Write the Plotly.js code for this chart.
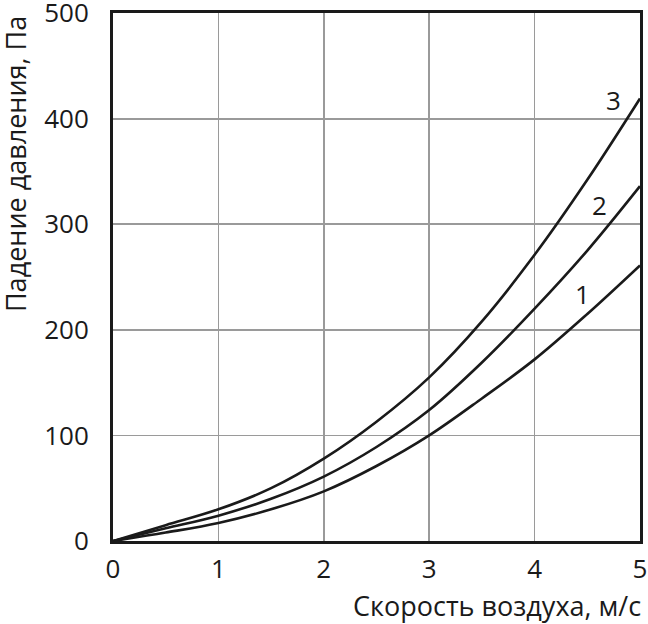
<!DOCTYPE html>
<html>
<head>
<meta charset="utf-8">
<script src="https://cdn.plot.ly/plotly-3.0.1.min.js"></script>
<style>
  html, body { margin: 0; padding: 0; background: #fff; }
  #chart { width: 648px; height: 624px; }
</style>
</head>
<body>
<div id="chart"></div>
<script>
// Air speed, m/s
const speed = [0, 0.5, 1, 1.5, 2, 2.5, 3, 3.5, 4, 4.5, 5];
// Pressure drop, Pa (curves 1..3)
const curve1 = [0, 8, 17, 30, 47, 71, 100, 135, 172, 215, 261];
const curve2 = [0, 12, 24, 40, 61, 89, 124, 169, 220, 275, 336];
const curve3 = [0, 15, 30, 50, 78, 113, 155, 208, 271, 342, 419];

const curveNames = ['1', '2', '3'];
const labelX = [4.45, 4.62, 4.75];
const labelY = [234, 318, 418];

const xTicks = [0, 1, 2, 3, 4, 5];
const yTicks = [0, 100, 200, 300, 400, 500];

const FONT = '"Open Sans", Lato, sans-serif';
const INK = '#1a1a1a';

const traces = [curve1, curve2, curve3].map((ys, i) => ({
    type: 'scatter',
    mode: 'lines',
    x: speed,
    y: ys,
    name: curveNames[i],
    line: { color: INK, width: 2.6, shape: 'spline', smoothing: 1 },
    hoverinfo: 'skip'
}));

const annotations = curveNames.map((t, i) => ({
    text: t,
    x: labelX[i], y: labelY[i],
    xref: 'x', yref: 'y',
    showarrow: false,
    font: { family: FONT, size: 26, color: INK }
}));

annotations.push({
    text: 'Падение давления, Па',
    xref: 'paper', yref: 'paper',
    x: -0.186, y: 0.998,
    xanchor: 'center', yanchor: 'top',
    textangle: -90,
    showarrow: false,
    font: { family: FONT, size: 27, color: INK }
});
annotations.push({
    text: 'Скорость воздуха, м/с',
    xref: 'paper', yref: 'paper',
    x: 1.006, y: -0.122,
    xanchor: 'right', yanchor: 'middle',
    showarrow: false,
    font: { family: FONT, size: 27, color: INK }
});

const axisBase = {
    showline: true, mirror: true,
    linecolor: INK, linewidth: 3,
    showgrid: true, gridcolor: '#9a9a9a', gridwidth: 1.8,
    zeroline: false,
    ticks: '',
    tickfont: { family: FONT, size: 26, color: INK },
    ticklabeloverflow: 'allow',
    fixedrange: true
};

const layout = {
    width: 648, height: 624,
    margin: { l: 113, r: 8, t: 13, b: 83 },
    paper_bgcolor: '#fff',
    plot_bgcolor: '#fff',
    showlegend: false,
    xaxis: Object.assign({}, axisBase, {
        range: [0, 5],
        tickvals: xTicks,
        ticklabelstandoff: 3
    }),
    yaxis: Object.assign({}, axisBase, {
        range: [0, 500],
        tickvals: yTicks,
        ticklabelstandoff: 16
    }),
    annotations: annotations
};

Plotly.newPlot('chart', traces, layout, { displayModeBar: false, staticPlot: true });
</script>
</body>
</html>
